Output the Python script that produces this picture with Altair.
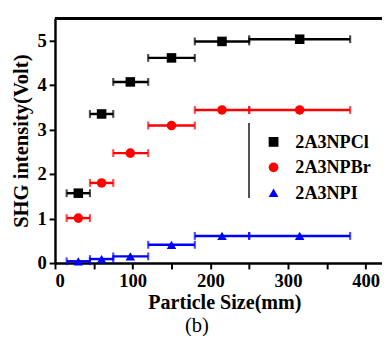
import altair as alt
import pandas as pd

# ---- data ----
series = ["2A3NPCl", "2A3NPBr", "2A3NPI"]
size_center = [30, 60, 97, 150, 215, 315]
size_low = [15, 45, 75, 120, 180, 250]
size_high = [45, 75, 120, 180, 250, 380]
shg_cl = [1.57, 3.35, 4.07, 4.61, 4.98, 5.03]
shg_br = [1.01, 1.80, 2.47, 3.09, 3.44, 3.44]
shg_i = [0.04, 0.09, 0.15, 0.41, 0.61, 0.61]
colors = ["#000000", "#ff0000", "#0000ff"]
shapes = ["square", "circle", "triangle-up"]
x_ticks = [0, 50, 100, 150, 200, 250, 300, 350, 400]
y_ticks = [0, 0.5, 1, 1.5, 2, 2.5, 3, 3.5, 4, 4.5, 5]

rows = []
for name, vals in zip(series, [shg_cl, shg_br, shg_i]):
    for c, lo, hi, v in zip(size_center, size_low, size_high, vals):
        rows.append({"series": name, "size": c, "lo": lo, "hi": hi, "shg": v})
df = pd.DataFrame(rows)

W, H = 334, 250
FONT = "Liberation Serif"

xscale = alt.Scale(domain=[0, 421], nice=False, zero=False)
yscale = alt.Scale(domain=[0, 5.5], nice=False)
cscale = alt.Scale(domain=series, range=colors)
sscale = alt.Scale(domain=series, range=shapes)

xaxis = alt.Axis(values=x_ticks, labelExpr="datum.value % 100 == 0 ? datum.label : ''",
                 title="Particle Size(mm)", titleX=173, titlePadding=2)
yaxis = alt.Axis(values=y_ticks, labelExpr="datum.value % 1 == 0 ? datum.label : ''",
                 title="SHG intensity(Volt)", titlePadding=6)

base = alt.Chart(df)

legend = alt.Legend(title=None, orient="none", legendX=214, legendY=117,
                    labelFont=FONT, labelFontWeight="bold", labelFontSize=18.5,
                    labelColor="black", labelOffset=13, rowPadding=7,
                    symbolSize=100, padding=0, symbolStrokeWidth=0)
points = base.mark_point(filled=True, size=95, opacity=1).encode(
    x=alt.X("size:Q", scale=xscale, axis=xaxis),
    y=alt.Y("shg:Q", scale=yscale, axis=yaxis),
    color=alt.Color("series:N", scale=cscale, legend=legend),
    shape=alt.Shape("series:N", scale=sscale, legend=legend),
)
bars = base.mark_rule(strokeWidth=2.5).encode(
    x=alt.X("lo:Q", scale=xscale),
    x2="hi:Q",
    y=alt.Y("shg:Q", scale=yscale),
    color=alt.Color("series:N", scale=cscale, legend=None),
)
cap_lo = base.mark_tick(orient="vertical", size=8, thickness=2.2).encode(
    x=alt.X("lo:Q", scale=xscale), y=alt.Y("shg:Q", scale=yscale),
    color=alt.Color("series:N", scale=cscale, legend=None),
)
cap_hi = base.mark_tick(orient="vertical", size=8, thickness=2.2).encode(
    x=alt.X("hi:Q", scale=xscale), y=alt.Y("shg:Q", scale=yscale),
    color=alt.Color("series:N", scale=cscale, legend=None),
)
top_border = alt.Chart(df).mark_rule(color="black", strokeWidth=2.5).encode(
    x=alt.value(0), x2=alt.value(W), y=alt.value(0)
)
legend_line = alt.Chart(df).mark_rule(color="#555555", strokeWidth=1).encode(
    x=alt.value(198), y=alt.value(107), y2=alt.value(183)
)

chart = alt.layer(points, bars, cap_lo, cap_hi, top_border, legend_line).properties(
    width=W, height=H,
    autosize=alt.AutoSizeParams(type="none"),
    padding={"left": 48, "top": 7, "right": 0, "bottom": 71},
    title=alt.TitleParams("(b)", orient="bottom", anchor="middle", dx=-22, offset=3,
                          font=FONT, fontSize=21, fontWeight="normal", color="black"),
).configure_view(stroke=None).configure_axis(
    grid=False, domainColor="black", domainWidth=2.5, tickColor="black",
    tickWidth=2, tickSize=6, labelFont=FONT, labelFontWeight="bold",
    labelFontSize=19, labelColor="black", labelPadding=3,
    titleFont=FONT, titleFontWeight="bold", titleFontSize=21, titleColor="black",
).configure_axisX(titleFontSize=20.5)

chart.save("out.html", embed_options={"renderer": "svg", "actions": False})
